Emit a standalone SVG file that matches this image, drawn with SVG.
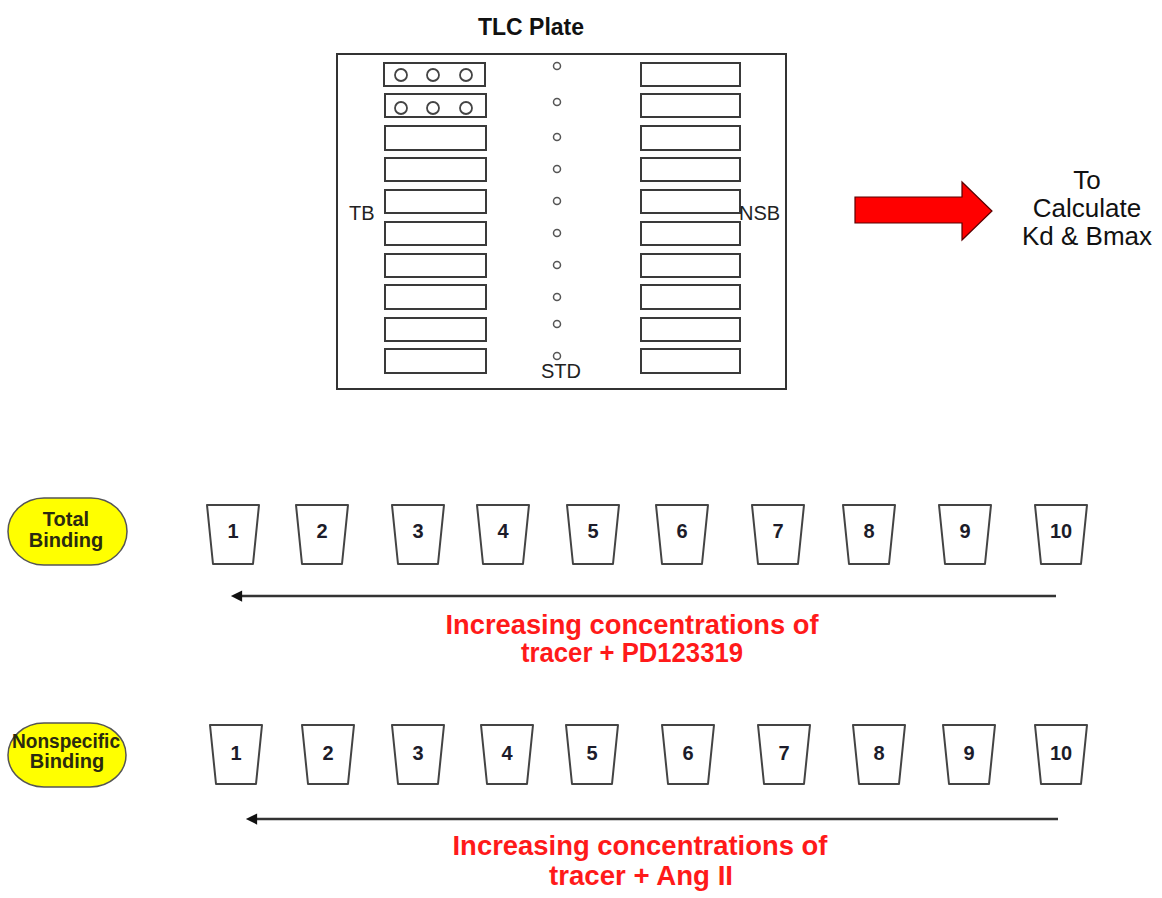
<svg xmlns="http://www.w3.org/2000/svg" width="1162" height="898" viewBox="0 0 1162 898">
<style>
.plate{fill:#fff;stroke:#333;stroke-width:2}
.strip{fill:#fff;stroke:#3a3a3a;stroke-width:2}
.dot{fill:#fff;stroke:#555;stroke-width:1.5}
.well{fill:#fff;stroke:#444;stroke-width:1.8}
.cup{fill:#fff;stroke:#444;stroke-width:2;stroke-linejoin:round}
.num{font-family:"Liberation Sans",Arial,sans-serif;font-weight:bold;font-size:20px;fill:#1c1c2a;text-anchor:middle}
.lab{font-family:"Liberation Sans",Arial,sans-serif;font-size:20px;fill:#222}
.pill{fill:#ffff00;stroke:#555;stroke-width:1.5}
.pilltxt{font-family:"Liberation Sans",Arial,sans-serif;font-weight:bold;font-size:20px;fill:#2a2a10;text-anchor:middle}
.red{font-family:"Liberation Sans",Arial,sans-serif;font-weight:bold;font-size:27px;fill:#ff1a1a;text-anchor:middle}
.conn{stroke:#333;stroke-width:2.5;fill:none}
</style>
<defs>
<marker id="ah" viewBox="0 0 10 10" refX="1" refY="5" markerWidth="6" markerHeight="4.5" orient="auto-start-reverse" markerUnits="strokeWidth">
<path d="M0,0 L10,5 L0,10 Z" fill="#111"/>
</marker>
</defs>
<rect width="1162" height="898" fill="#fff"/>

<g id="tlc-plate">
<text x="531" y="35" font-family="'Liberation Sans',Arial,sans-serif" font-weight="bold" font-size="23" text-anchor="middle" fill="#111">TLC Plate</text>
<rect class="plate" x="337" y="54" width="449" height="335"/>
<g id="tb-strips">
<rect class="strip" x="384" y="63" width="101" height="23"/>
<rect class="strip" x="385" y="94" width="101" height="23"/>
<rect class="strip" x="385" y="126" width="101" height="24"/>
<rect class="strip" x="385" y="158" width="101" height="23"/>
<rect class="strip" x="385" y="190" width="101" height="23"/>
<rect class="strip" x="385" y="222" width="101" height="23"/>
<rect class="strip" x="385" y="254" width="101" height="23"/>
<rect class="strip" x="385" y="285" width="101" height="24"/>
<rect class="strip" x="385" y="318" width="101" height="23"/>
<rect class="strip" x="385" y="349" width="101" height="24"/>
<circle class="well" cx="401" cy="75" r="6"/>
<circle class="well" cx="433" cy="75" r="6"/>
<circle class="well" cx="466" cy="75" r="6"/>
<circle class="well" cx="401" cy="108" r="6"/>
<circle class="well" cx="433" cy="108" r="6"/>
<circle class="well" cx="466" cy="108" r="6"/>
</g>
<g id="std-spots">
<circle class="dot" cx="557" cy="66" r="3.5"/>
<circle class="dot" cx="557" cy="102" r="3.5"/>
<circle class="dot" cx="557" cy="137" r="3.5"/>
<circle class="dot" cx="557" cy="169" r="3.5"/>
<circle class="dot" cx="557" cy="201" r="3.5"/>
<circle class="dot" cx="557" cy="233" r="3.5"/>
<circle class="dot" cx="557" cy="265" r="3.5"/>
<circle class="dot" cx="557" cy="297" r="3.5"/>
<circle class="dot" cx="557" cy="324" r="3.5"/>
<circle class="dot" cx="557" cy="356" r="3.5"/>
</g>
<g id="nsb-strips">
<rect class="strip" x="641" y="63" width="99" height="23"/>
<rect class="strip" x="641" y="94" width="99" height="23"/>
<rect class="strip" x="641" y="126" width="99" height="24"/>
<rect class="strip" x="641" y="158" width="99" height="23"/>
<rect class="strip" x="641" y="190" width="99" height="23"/>
<rect class="strip" x="641" y="222" width="99" height="23"/>
<rect class="strip" x="641" y="254" width="99" height="23"/>
<rect class="strip" x="641" y="285" width="99" height="24"/>
<rect class="strip" x="641" y="318" width="99" height="23"/>
<rect class="strip" x="641" y="349" width="99" height="24"/>
</g>
<text class="lab" x="349" y="220">TB</text>
<text class="lab" x="739" y="220">NSB</text>
<text class="lab" x="541" y="378">STD</text>
</g>

<g id="result">
<polygon points="855,197 962,197 962,182 992,211 962,240 962,223 855,223" fill="#ff0000" stroke="#5a0000" stroke-width="1.2"/>
<g font-family="'Liberation Sans',Arial,sans-serif" font-size="26" text-anchor="middle" fill="#111">
<text x="1087" y="189">To</text>
<text x="1087" y="217">Calculate</text>
<text x="1087" y="245">Kd &amp; Bmax</text>
</g>
</g>

<g id="total-binding">
<rect class="pill" x="8" y="498" width="119" height="67" rx="36" ry="33.5"/>
<text class="pilltxt" x="66" y="526">Total</text>
<text class="pilltxt" x="66" y="547">Binding</text>
</g>

<g id="tb-tubes">
<g id="tb-1"><path class="cup" d="M207,505 H259 L253,564 H213 Z"/><text class="num" x="233" y="538">1</text></g>
<g id="tb-2"><path class="cup" d="M296,505 H348 L342,564 H302 Z"/><text class="num" x="322" y="538">2</text></g>
<g id="tb-3"><path class="cup" d="M392,505 H444 L438,564 H398 Z"/><text class="num" x="418" y="538">3</text></g>
<g id="tb-4"><path class="cup" d="M477,505 H529 L523,564 H483 Z"/><text class="num" x="503" y="538">4</text></g>
<g id="tb-5"><path class="cup" d="M567,505 H619 L613,564 H573 Z"/><text class="num" x="593" y="538">5</text></g>
<g id="tb-6"><path class="cup" d="M656,505 H708 L702,564 H662 Z"/><text class="num" x="682" y="538">6</text></g>
<g id="tb-7"><path class="cup" d="M752,505 H804 L798,564 H758 Z"/><text class="num" x="778" y="538">7</text></g>
<g id="tb-8"><path class="cup" d="M843,505 H895 L889,564 H849 Z"/><text class="num" x="869" y="538">8</text></g>
<g id="tb-9"><path class="cup" d="M939,505 H991 L985,564 H945 Z"/><text class="num" x="965" y="538">9</text></g>
<g id="tb-10"><path class="cup" d="M1035,505 H1087 L1081,564 H1041 Z"/><text class="num" x="1061" y="538">10</text></g>
</g>

<g id="tb-caption">
<text class="red" x="632" y="634" textLength="373" lengthAdjust="spacingAndGlyphs">Increasing concentrations of</text>
<text class="red" x="632" y="662" textLength="222" lengthAdjust="spacingAndGlyphs">tracer + PD123319</text>
</g>

<g id="nonspecific-binding">
<rect class="pill" x="8" y="723" width="118" height="64" rx="36" ry="32"/>
<text class="pilltxt" x="66" y="748" textLength="108" lengthAdjust="spacingAndGlyphs">Nonspecific</text>
<text class="pilltxt" x="67" y="768">Binding</text>
</g>

<g id="nsb-tubes">
<g id="nsb-1"><path class="cup" d="M210,725 H262 L256,784 H216 Z"/><text class="num" x="236" y="760">1</text></g>
<g id="nsb-2"><path class="cup" d="M302,725 H354 L348,784 H308 Z"/><text class="num" x="328" y="760">2</text></g>
<g id="nsb-3"><path class="cup" d="M392,725 H444 L438,784 H398 Z"/><text class="num" x="418" y="760">3</text></g>
<g id="nsb-4"><path class="cup" d="M481,725 H533 L527,784 H487 Z"/><text class="num" x="507" y="760">4</text></g>
<g id="nsb-5"><path class="cup" d="M566,725 H618 L612,784 H572 Z"/><text class="num" x="592" y="760">5</text></g>
<g id="nsb-6"><path class="cup" d="M662,725 H714 L708,784 H668 Z"/><text class="num" x="688" y="760">6</text></g>
<g id="nsb-7"><path class="cup" d="M758,725 H810 L804,784 H764 Z"/><text class="num" x="784" y="760">7</text></g>
<g id="nsb-8"><path class="cup" d="M853,725 H905 L899,784 H859 Z"/><text class="num" x="879" y="760">8</text></g>
<g id="nsb-9"><path class="cup" d="M943,725 H995 L989,784 H949 Z"/><text class="num" x="969" y="760">9</text></g>
<g id="nsb-10"><path class="cup" d="M1035,725 H1087 L1081,784 H1041 Z"/><text class="num" x="1061" y="760">10</text></g>
</g>

<g id="nsb-caption">
<text class="red" x="640" y="855" textLength="375" lengthAdjust="spacingAndGlyphs">Increasing concentrations of</text>
<text class="red" x="641" y="885" textLength="184" lengthAdjust="spacingAndGlyphs">tracer + Ang II</text>
</g>

<g id="connectors">
<line class="conn" x1="1056" y1="596" x2="241" y2="596" marker-end="url(#ah)"/>
<line class="conn" x1="1058" y1="819" x2="256" y2="819" marker-end="url(#ah)"/>
</g>
</svg>
